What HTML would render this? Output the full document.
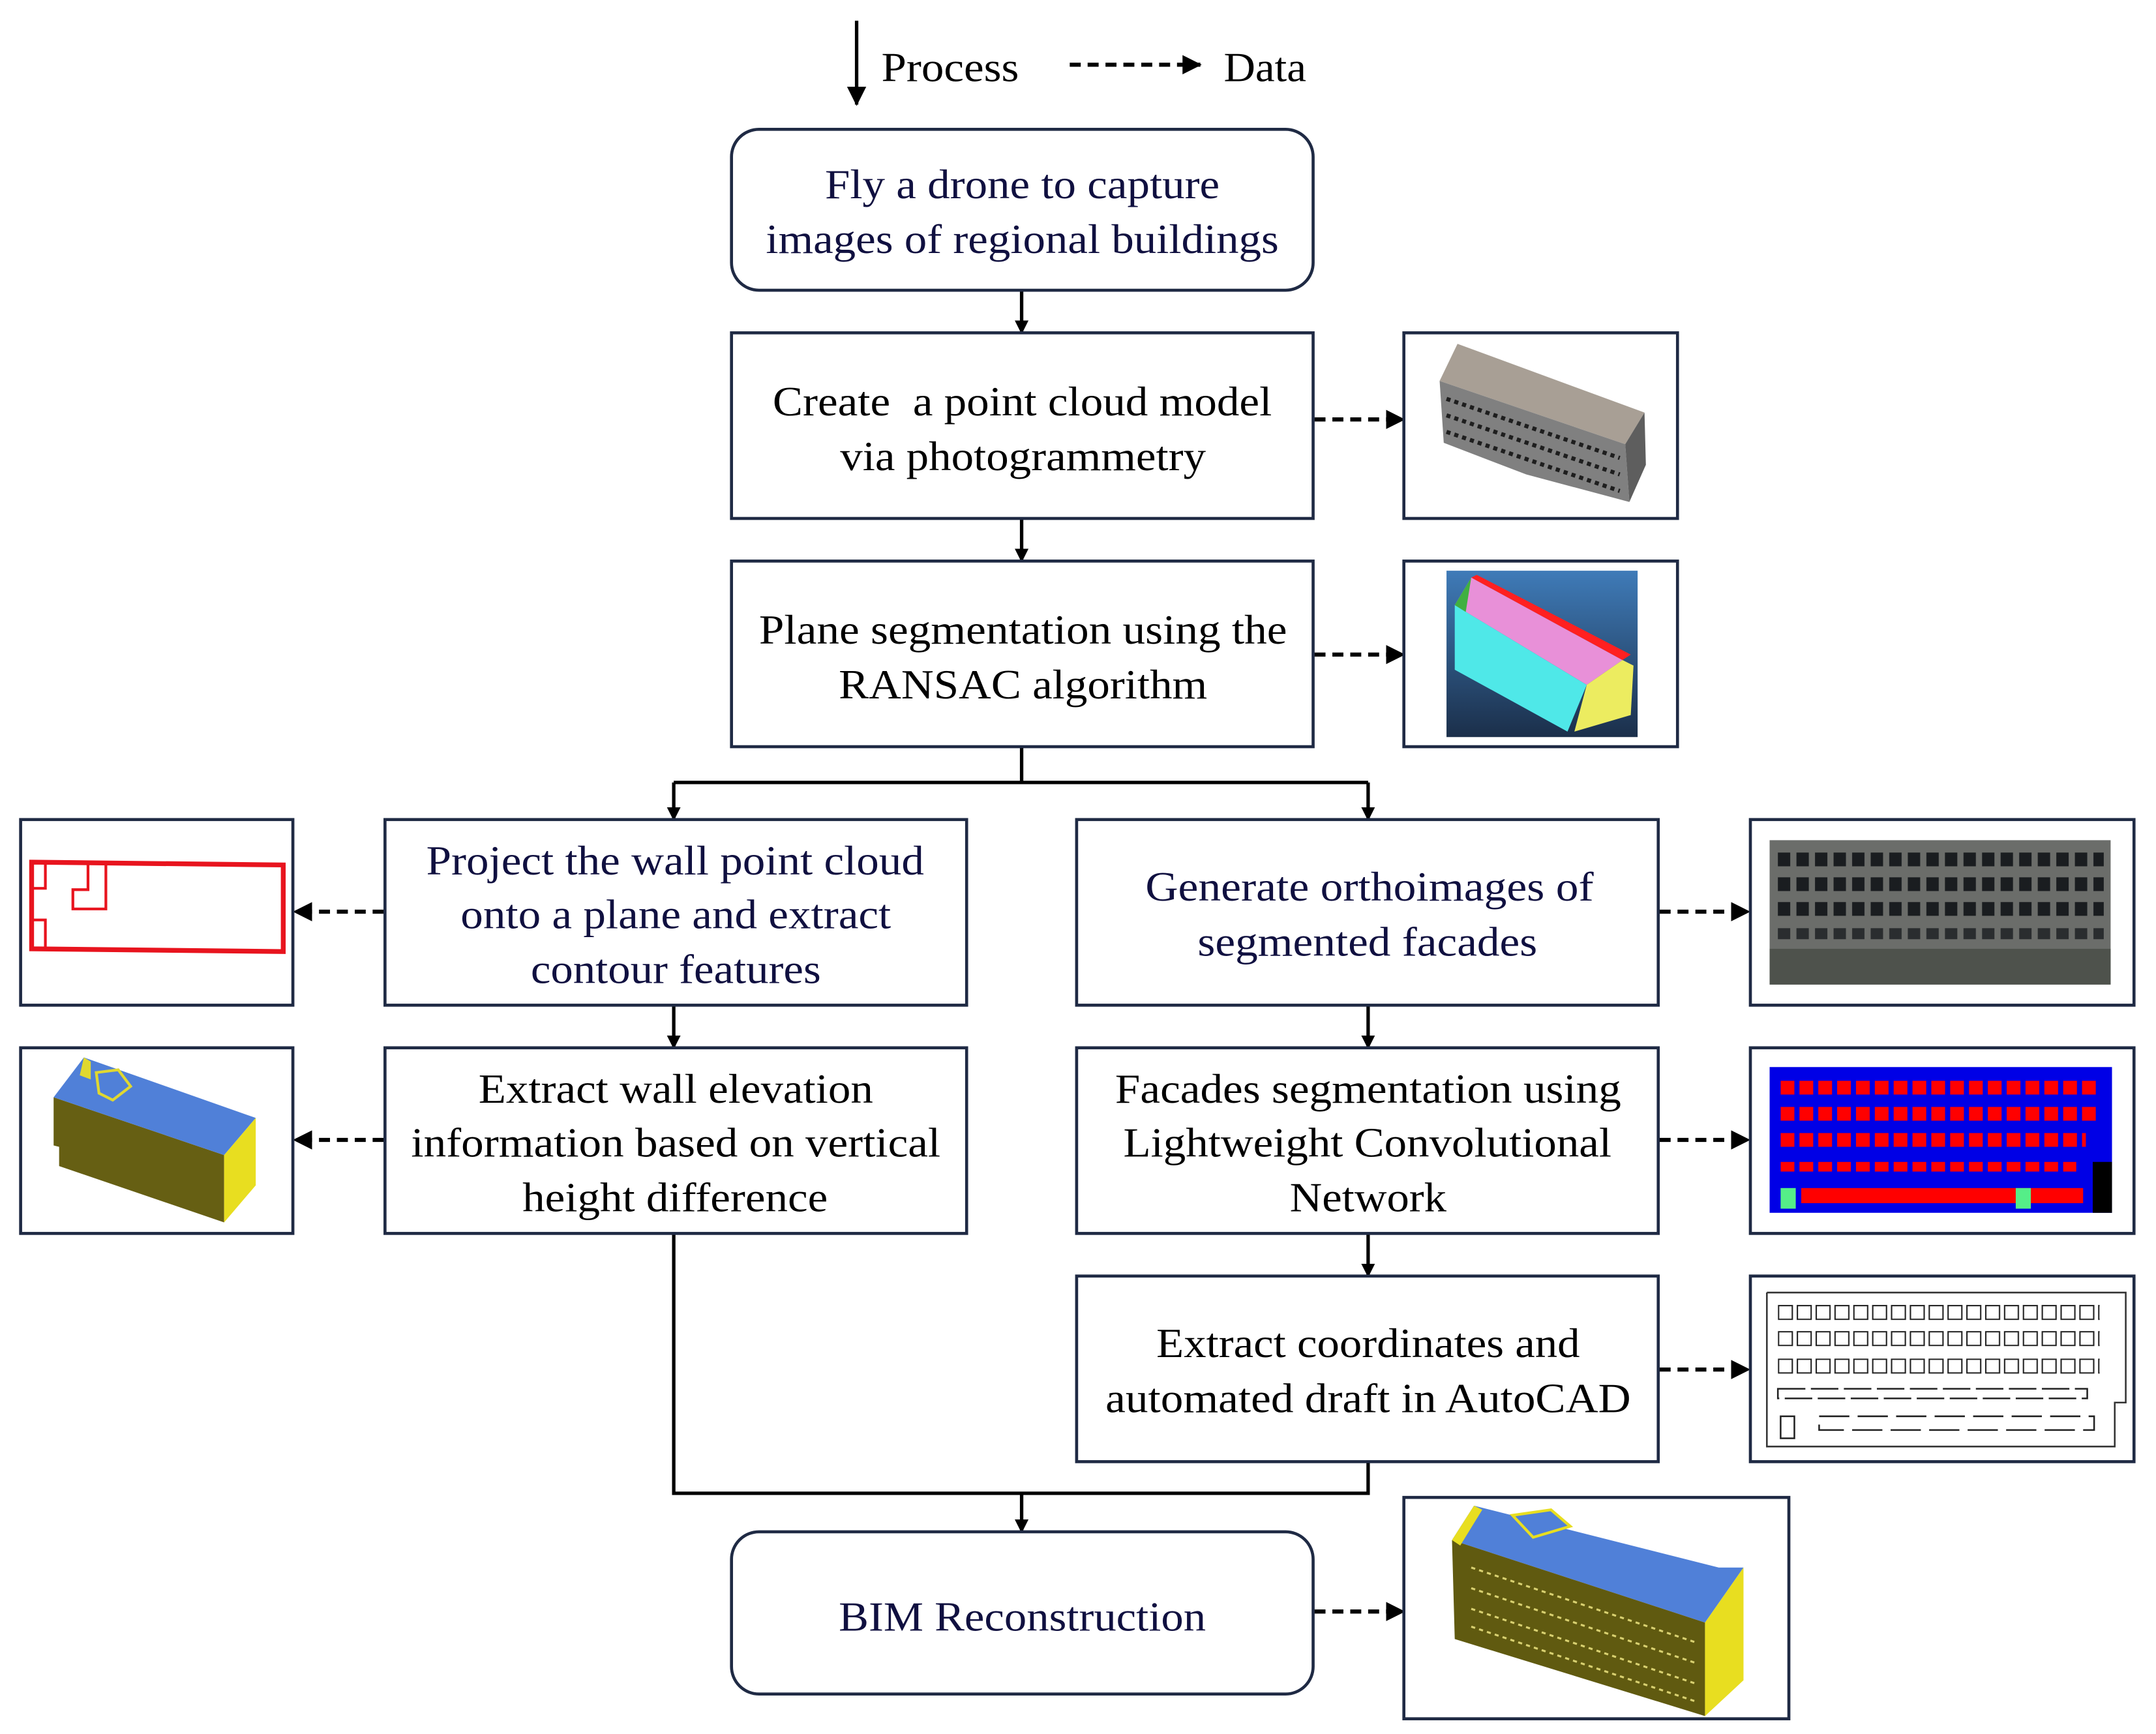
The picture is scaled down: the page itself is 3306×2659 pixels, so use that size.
<!DOCTYPE html>
<html><head><meta charset="utf-8"><style>html,body{margin:0;padding:0;background:#fff}svg{display:block}</style></head>
<body>
<svg width="3306" height="2659" viewBox="0 0 1568 1261" xmlns="http://www.w3.org/2000/svg" font-family="Liberation Serif, serif" font-size="30">
<defs>
<marker id="ah" markerWidth="10" markerHeight="10" refX="9" refY="5" orient="auto" markerUnits="userSpaceOnUse"><path d="M0,0 L10,5 L0,10 Z" fill="#000"/></marker>
<marker id="ah2" markerWidth="14" markerHeight="14" refX="13" refY="7" orient="auto" markerUnits="userSpaceOnUse"><path d="M0,0 L14,7 L0,14 Z" fill="#000"/></marker>
<linearGradient id="bg" x1="0" y1="0" x2="0" y2="1"><stop offset="0" stop-color="#3f7bb8"/><stop offset="1" stop-color="#1b2f4a"/></linearGradient>
<pattern id="win" x="1292" y="0" width="13.5" height="18" patternUnits="userSpaceOnUse"><rect x="1" y="0" width="9" height="18" fill="#1a1d20"/></pattern>
<pattern id="red" x="1295" y="0" width="13.7" height="20" patternUnits="userSpaceOnUse"><rect x="0" y="0" width="10" height="20" fill="#ff0000"/></pattern>
<pattern id="cad1" x="1293" y="949" width="13.7" height="12" patternUnits="userSpaceOnUse"><rect x="0.5" y="0.5" width="10" height="10" fill="none" stroke="#222" stroke-width="1"/></pattern>
<pattern id="cad2" x="1293" y="968" width="13.7" height="12" patternUnits="userSpaceOnUse"><rect x="0.5" y="0.5" width="10" height="10" fill="none" stroke="#222" stroke-width="1"/></pattern>
<pattern id="cad3" x="1293" y="988" width="13.7" height="12" patternUnits="userSpaceOnUse"><rect x="0.5" y="0.5" width="10" height="10" fill="none" stroke="#222" stroke-width="1"/></pattern>
</defs>
<g stroke="#000" stroke-width="2.5" fill="none">
<line x1="623" y1="15" x2="623" y2="76" marker-end="url(#ah2)"/>
<line x1="778" y1="47" x2="873" y2="47" stroke-width="3" stroke-dasharray="8,5" marker-end="url(#ah2)"/>
<line x1="743" y1="211" x2="743" y2="242" marker-end="url(#ah)"/>
<line x1="743" y1="377" x2="743" y2="408" marker-end="url(#ah)"/>
<polyline points="743,543 743,569"/>
<polyline points="490,569 995,569"/>
<line x1="490" y1="569" x2="490" y2="596" marker-end="url(#ah)"/>
<line x1="995" y1="569" x2="995" y2="596" marker-end="url(#ah)"/>
<line x1="490" y1="731" x2="490" y2="762" marker-end="url(#ah)"/>
<line x1="995" y1="731" x2="995" y2="762" marker-end="url(#ah)"/>
<line x1="995" y1="897" x2="995" y2="928" marker-end="url(#ah)"/>
<polyline points="490,897 490,1086 995,1086 995,1063"/>
<line x1="743" y1="1086" x2="743" y2="1114" marker-end="url(#ah)"/>
<g stroke-width="3" stroke-dasharray="8,5">
<line x1="956" y1="305" x2="1021" y2="305" marker-end="url(#ah2)"/>
<line x1="956" y1="476" x2="1021" y2="476" marker-end="url(#ah2)"/>
<line x1="279" y1="663" x2="214" y2="663" marker-end="url(#ah2)"/>
<line x1="279" y1="829" x2="214" y2="829" marker-end="url(#ah2)"/>
<line x1="1207" y1="663" x2="1272" y2="663" marker-end="url(#ah2)"/>
<line x1="1207" y1="829" x2="1272" y2="829" marker-end="url(#ah2)"/>
<line x1="1207" y1="996" x2="1272" y2="996" marker-end="url(#ah2)"/>
<line x1="956" y1="1172" x2="1021" y2="1172" marker-end="url(#ah2)"/>
</g>
</g>
<g stroke="#1f2a44" stroke-width="2.2" fill="#fff">
<rect x="532" y="94" width="423" height="117" rx="20"/>
<rect x="532" y="242" width="423" height="135"/>
<rect x="532" y="408" width="423" height="135"/>
<rect x="280" y="596" width="423" height="135"/>
<rect x="783" y="596" width="423" height="135"/>
<rect x="280" y="762" width="423" height="135"/>
<rect x="783" y="762" width="423" height="135"/>
<rect x="783" y="928" width="423" height="135"/>
<rect x="532" y="1114" width="423" height="118" rx="20"/>
<rect x="1021" y="242" width="199" height="135"/>
<rect x="1021" y="408" width="199" height="135"/>
<rect x="15" y="596" width="198" height="135"/>
<rect x="15" y="762" width="198" height="135"/>
<rect x="1273" y="596" width="279" height="135"/>
<rect x="1273" y="762" width="279" height="135"/>
<rect x="1273" y="928" width="279" height="135"/>
<rect x="1021" y="1089" width="280" height="161"/>
</g>
<g fill="#000">
<text x="641" y="59" textLength="100" lengthAdjust="spacingAndGlyphs">Process</text>
<text x="890" y="59" textLength="60" lengthAdjust="spacingAndGlyphs">Data</text>
</g>
<g fill="#101040">
<text x="600" y="144" textLength="287" lengthAdjust="spacingAndGlyphs">Fly a drone to capture</text>
<text x="557" y="184" textLength="373" lengthAdjust="spacingAndGlyphs">images of regional buildings</text>
<text x="310" y="636" textLength="362" lengthAdjust="spacingAndGlyphs">Project the wall point cloud</text>
<text x="335" y="675" textLength="313" lengthAdjust="spacingAndGlyphs">onto a plane and extract</text>
<text x="386" y="715" textLength="211" lengthAdjust="spacingAndGlyphs">contour features</text>
<text x="833" y="655" textLength="326" lengthAdjust="spacingAndGlyphs">Generate orthoimages of</text>
<text x="871" y="695" textLength="247" lengthAdjust="spacingAndGlyphs">segmented facades</text>
<text x="610" y="1186" textLength="267" lengthAdjust="spacingAndGlyphs">BIM Reconstruction</text>
</g>
<g fill="#000">
<text x="562" y="302" textLength="363" lengthAdjust="spacingAndGlyphs" xml:space="preserve">Create  a point cloud model</text>
<text x="611" y="342" textLength="266" lengthAdjust="spacingAndGlyphs">via photogrammetry</text>
<text x="552" y="468" textLength="384" lengthAdjust="spacingAndGlyphs">Plane segmentation using the</text>
<text x="610" y="508" textLength="268" lengthAdjust="spacingAndGlyphs">RANSAC algorithm</text>
<text x="348" y="802" textLength="287" lengthAdjust="spacingAndGlyphs">Extract wall elevation</text>
<text x="299" y="841" textLength="385" lengthAdjust="spacingAndGlyphs">information based on vertical</text>
<text x="380" y="881" textLength="222" lengthAdjust="spacingAndGlyphs">height difference</text>
<text x="811" y="802" textLength="368" lengthAdjust="spacingAndGlyphs">Facades segmentation using</text>
<text x="817" y="841" textLength="355" lengthAdjust="spacingAndGlyphs">Lightweight Convolutional</text>
<text x="938" y="881" textLength="114" lengthAdjust="spacingAndGlyphs">Network</text>
<text x="841" y="987" textLength="308" lengthAdjust="spacingAndGlyphs">Extract coordinates and</text>
<text x="804" y="1027" textLength="382" lengthAdjust="spacingAndGlyphs">automated draft in AutoCAD</text>
</g>
<polygon points="1060,250 1196,300 1182,323 1047,277" fill="#a89f95"/>
<polygon points="1047,277 1182,323 1185,365 1110,345 1050,322" fill="#808080"/>
<polygon points="1182,323 1196,300 1197,338 1185,365" fill="#5e5e5e"/>
<g stroke="#1e1e1e" stroke-width="3" stroke-dasharray="3,3">
<line x1="1052" y1="290" x2="1178" y2="333"/><line x1="1052" y1="302" x2="1178" y2="345"/><line x1="1052" y1="314" x2="1178" y2="357"/>
</g>
<rect x="1052" y="415" width="139" height="121" fill="url(#bg)"/>
<polygon points="1058,440 1154,498 1140,532 1058,487" fill="#4fe8e8"/>
<polygon points="1058,440 1070,420 1180,480 1154,498" fill="#e890d8"/>
<polygon points="1070,420 1074,418 1186,476 1180,480" fill="#ff2020"/>
<polygon points="1154,498 1180,480 1188,484 1186,520 1145,532" fill="#ecec60"/>
<polygon points="1058,440 1070,420 1066,445" fill="#40b040"/>
<g fill="none" stroke="#e8141e" stroke-width="3.5"><polygon points="23,627 206,629 206,692 23,690"/></g>
<g fill="none" stroke="#e8141e" stroke-width="2"><polyline points="33,628 33,646 23,646"/><polyline points="33,690 33,669 23,669"/><polyline points="64,628 64,647 53,647 53,661 77,661 77,628"/></g>
<polygon points="39,798 163,840 163,889 43,848 43,834 39,833" fill="#665f13"/>
<polygon points="61,769 186,813 163,840 39,798" fill="#5080d8"/>
<polygon points="163,840 186,813 186,862 163,889" fill="#e8de20"/>
<polygon points="61,769 66,772 66,785 58,782" fill="#e0d830"/>
<polygon points="70,780 86,778 95,790 82,800 72,795" fill="#5080d8" stroke="#e0d830" stroke-width="2"/>
<rect x="1287" y="611" width="248" height="105" fill="#6b6d6a"/>
<rect x="1292" y="620" width="238" height="10" fill="url(#win)"/>
<rect x="1292" y="638" width="238" height="10" fill="url(#win)"/>
<rect x="1292" y="656" width="238" height="10" fill="url(#win)"/>
<rect x="1292" y="675" width="238" height="8" fill="url(#win)" opacity=".8"/>
<rect x="1287" y="690" width="248" height="26" fill="#4e524c"/>
<rect x="1287" y="776" width="249" height="106" fill="#0000e6"/>
<rect x="1295" y="786" width="232" height="10" fill="url(#red)"/>
<rect x="1295" y="805" width="232" height="10" fill="url(#red)"/>
<rect x="1295" y="824" width="222" height="10" fill="url(#red)"/>
<rect x="1295" y="845" width="215" height="7" fill="url(#red)"/>
<rect x="1310" y="864" width="205" height="11" fill="#ff0000"/>
<rect x="1522" y="845" width="14" height="37" fill="#000"/>
<rect x="1295" y="864" width="11" height="15" fill="#55ee88"/>
<rect x="1466" y="864" width="11" height="15" fill="#55ee88"/>
<polyline points="1285,940 1546,940 1546,1020 1538,1020 1538,1052 1285,1052 1285,940" fill="none" stroke="#333" stroke-width="1.2"/>
<rect x="1293" y="949" width="234" height="11" fill="url(#cad1)"/>
<rect x="1293" y="968" width="234" height="11" fill="url(#cad2)"/>
<rect x="1293" y="988" width="234" height="11" fill="url(#cad3)"/>
<g fill="none" stroke="#222" stroke-width="1.2">
<rect x="1293" y="1010" width="225" height="7" stroke-dasharray="20,4"/>
<rect x="1323" y="1030" width="200" height="10" stroke-dasharray="22,6"/>
<rect x="1295" y="1030" width="10" height="16"/>
</g>
<polygon points="1056,1120 1072,1095 1250,1140 1268,1140 1240,1180" fill="#5080d8"/>
<polygon points="1056,1120 1240,1180 1240,1248 1058,1192" fill="#605a10"/>
<polygon points="1240,1180 1268,1140 1268,1222 1240,1248" fill="#e8de20"/>
<polygon points="1056,1120 1072,1095 1078,1098 1062,1124" fill="#e8de20"/>
<polygon points="1100,1102 1128,1098 1142,1110 1115,1118" fill="#5080d8" stroke="#e8de20" stroke-width="2"/>
<g stroke="#d8d070" stroke-width="1.5" stroke-dasharray="3,3" fill="none">
<line x1="1070" y1="1140" x2="1235" y2="1195"/><line x1="1070" y1="1155" x2="1235" y2="1210"/><line x1="1070" y1="1170" x2="1235" y2="1225"/><line x1="1070" y1="1183" x2="1235" y2="1238"/>
</g>
</svg>
</body></html>
